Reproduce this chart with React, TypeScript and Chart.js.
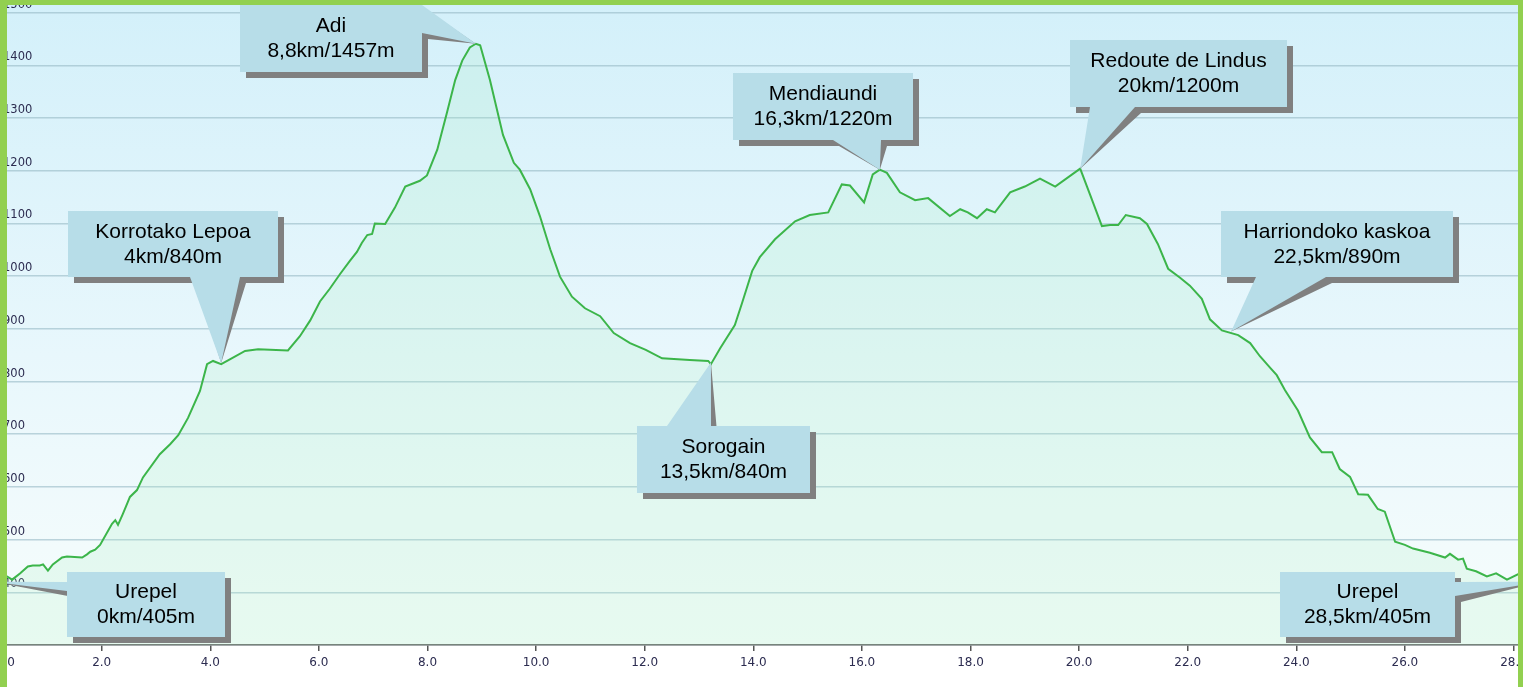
import React, { useEffect, useRef } from 'react';
import { Chart, registerables } from 'chart.js';

Chart.register(...registerables);

// ---- data (km / metres) ----
const distanceKm = [
  0, 0.26, 0.35, 0.5, 0.64, 0.73, 0.86, 0.92, 1.01, 1.1, 1.27, 1.36, 1.64, 1.73, 1.79, 1.88, 1.97,
  2.19, 2.25, 2.3, 2.39, 2.48, 2.52, 2.65, 2.76, 3.07, 3.26, 3.41, 3.59, 3.81, 3.94, 4.05, 4.2,
  4.36, 4.64, 4.88, 5.43, 5.65, 5.84, 6.02, 6.2, 6.39, 6.57, 6.7, 6.79, 6.89, 6.98, 7.03, 7.22,
  7.4, 7.59, 7.86, 7.99, 8.18, 8.36, 8.51, 8.64, 8.78, 8.89, 8.97, 9.15, 9.39, 9.59, 9.7, 9.89,
  10.07, 10.26, 10.44, 10.66, 10.9, 11.18, 11.43, 11.73, 12.02, 12.32, 12.83, 13.17, 13.22,
  13.39, 13.66, 13.79, 13.98, 14.12, 14.4, 14.77, 15.04, 15.38, 15.63, 15.78, 16.04, 16.2,
  16.33, 16.46, 16.7, 16.98, 17.22, 17.62, 17.81, 17.95, 18.12, 18.3, 18.45, 18.73, 19.0,
  19.28, 19.56, 20.02, 20.2, 20.42, 20.57, 20.72, 20.86, 21.12, 21.25, 21.45, 21.64, 21.86,
  22.04, 22.26, 22.41, 22.63, 22.93, 23.15, 23.33, 23.52, 23.64, 23.79, 24.03, 24.25, 24.47,
  24.66, 24.8, 24.99, 25.14, 25.32, 25.5, 25.63, 25.82, 26.0, 26.15, 26.46, 26.74, 26.83,
  26.98, 27.07, 27.14, 27.31, 27.51, 27.68, 27.88, 28.08, 28.5,
];
const elevationM = [
  420, 430, 424, 436, 449, 451, 451, 453, 441, 453, 466, 468, 466, 472, 477, 481, 490,
  530, 537, 528, 549, 571, 581, 594, 618, 662, 681, 698, 731, 782, 833, 839, 833,
  842, 858, 861, 859, 886, 916, 952, 976, 1004, 1029, 1046, 1063, 1078, 1080, 1100, 1099,
  1130, 1170, 1181, 1191, 1240, 1311, 1372, 1409, 1434, 1441, 1438, 1372, 1268, 1215, 1202, 1165,
  1114, 1051, 999, 961, 939, 924, 892, 873, 860, 844, 841, 839, 833,
  863, 907, 948, 1010, 1036, 1070, 1104, 1116, 1121, 1174, 1172, 1140, 1193,
  1202, 1196, 1159, 1144, 1148, 1114, 1127, 1121, 1110, 1127, 1121, 1159, 1170,
  1185, 1170, 1204, 1155, 1095, 1097, 1097, 1116, 1110, 1099, 1061, 1014, 997,
  982, 957, 918, 897, 888, 873, 848, 826, 812, 784, 745, 694, 666,
  666, 634, 619, 586, 585, 558, 553, 496, 490, 483, 475, 466, 473,
  462, 464, 445, 440, 430, 436, 424, 434, 425,
];

// ---- axes ----
const xRange = [0.127, 28.175];
const yRange = [300, 1524];
const xTickStep = 2;
const yTickStep = 100;

// ---- callouts (labels and the point each one points to) ----
const calloutTitles = ['Urepel', 'Korrotako Lepoa', 'Adi', 'Sorogain', 'Mendiaundi', 'Redoute de Lindus', 'Harriondoko kaskoa', 'Urepel'];
const calloutSubtitles = ['0km/405m', '4km/840m', '8,8km/1457m', '13,5km/840m', '16,3km/1220m', '20km/1200m', '22,5km/890m', '28,5km/405m'];
const calloutKm = [0, 4.2, 8.89, 13.22, 16.33, 20.02, 22.8, 28.5];
const calloutM = [420, 835, 1441, 836, 1202, 1204, 895, 420];

// layout of callout boxes: [left, top, width, height, base1x, base1y, base2x, base2y] (px, base relative to box)
const calloutLayout = [
  [67, 572, 158, 65, 0, 10, 0, 19],
  [68, 211, 210, 66, 122, 66, 172, 66],
  [240, 5, 182, 67, 182, 0, 182, 28],
  [637, 426, 173, 67, 30, 0, 74, 0],
  [733, 73, 180, 67, 100, 67, 148, 67],
  [1070, 40, 217, 67, 20, 67, 65, 67],
  [1221, 211, 232, 66, 35, 66, 105, 66],
  [1280, 572, 175, 65, 175, 10, 175, 24],
];

const TICK_COLOR = '#2c2c50';

const backgroundPlugin = {
  id: 'bgGradient',
  beforeDraw(chart: any) {
    const { ctx, chartArea: a } = chart;
    const g = ctx.createLinearGradient(0, a.top, 0, a.bottom);
    g.addColorStop(0, '#d3f0fa');
    g.addColorStop(0.55, '#e8f7fc');
    g.addColorStop(1, '#f7fdfc');
    ctx.save();
    ctx.fillStyle = g;
    ctx.fillRect(a.left, a.top, a.right - a.left, a.bottom - a.top);
    ctx.restore();
  },
};

const calloutPlugin = {
  id: 'callouts',
  afterDraw(chart: any) {
    const { ctx } = chart;
    const xs = chart.scales.x;
    const ys = chart.scales.y;
    const sh = 6;
    ctx.save();
    calloutTitles.forEach((title, i) => {
      const [l, t, w, h, b1x, b1y, b2x, b2y] = calloutLayout[i];
      const tx = xs.getPixelForValue(calloutKm[i]);
      const ty = ys.getPixelForValue(calloutM[i]);
      // shadow
      ctx.fillStyle = '#808080';
      ctx.beginPath();
      ctx.rect(l + sh, t + sh, w, h);
      ctx.moveTo(l + b1x + sh, t + b1y + sh);
      ctx.lineTo(tx, ty);
      ctx.lineTo(l + b2x + sh, t + b2y + sh);
      ctx.closePath();
      ctx.fill();
      // box
      ctx.fillStyle = '#b7dde8';
      ctx.beginPath();
      ctx.rect(l, t, w, h);
      ctx.moveTo(l + b1x, t + b1y);
      ctx.lineTo(tx, ty);
      ctx.lineTo(l + b2x, t + b2y);
      ctx.closePath();
      ctx.fill();
      // text
      ctx.fillStyle = '#000000';
      ctx.font = '21px "Liberation Sans", Arial, sans-serif';
      ctx.textAlign = 'center';
      ctx.textBaseline = 'middle';
      const cx = l + w / 2;
      const cy = t + h / 2;
      ctx.fillText(title, cx, cy - 12);
      ctx.fillText(calloutSubtitles[i], cx, cy + 13);
    });
    // first distance label, drawn at the left edge
    ctx.fillStyle = TICK_COLOR;
    ctx.font = '12px "DejaVu Sans"';
    ctx.textAlign = 'center';
    ctx.textBaseline = 'middle';
    ctx.fillText('0', 11, xs.top + 6 + 5 + 7.2);
    ctx.restore();
  },
};

export default function App() {
  const canvasRef = useRef<HTMLCanvasElement | null>(null);

  useEffect(() => {
    if (!canvasRef.current) return;
    const points = distanceKm.map((x, i) => ({ x, y: elevationM[i] }));
    const chart = new Chart(canvasRef.current, {
      type: 'line',
      data: {
        datasets: [
          {
            data: points,
            borderColor: '#3cb54a',
            borderWidth: 2,
            backgroundColor: 'rgba(170, 240, 195, 0.2)',
            fill: 'start',
            pointRadius: 0,
            tension: 0,
          },
        ],
      },
      options: {
        animation: false,
        responsive: false,
        devicePixelRatio: 1,
        layout: { padding: { top: 0, left: 0, right: 0, bottom: 11.6 } },
        plugins: { legend: { display: false }, tooltip: { enabled: false } },
        scales: {
          x: {
            type: 'linear',
            min: xRange[0],
            max: xRange[1],
            border: { display: true, color: '#6a6a6a', width: 1.5 },
            grid: { drawOnChartArea: false, drawTicks: true, tickLength: 6, color: '#555555', lineWidth: 1.5 },
            ticks: {
              stepSize: xTickStep,
              includeBounds: false,
              autoSkip: false,
              maxRotation: 0,
              padding: 5,
              color: TICK_COLOR,
              font: { family: '"DejaVu Sans"', size: 12 },
              callback: (v: any) => Number(v).toFixed(1),
            },
            afterFit: (s: any) => {
              s.paddingLeft = 0;
              s.paddingRight = 0;
            },
          },
          y: {
            type: 'linear',
            min: yRange[0],
            max: yRange[1],
            border: { display: false },
            grid: { drawTicks: false, tickLength: 0, color: 'rgba(150, 185, 196, 0.6)', lineWidth: 1.5 },
            ticks: {
              stepSize: yTickStep,
              includeBounds: false,
              mirror: true,
              padding: 3,
              labelOffset: -8,
              color: TICK_COLOR,
              font: { family: '"DejaVu Sans"', size: 11.5 },
              callback: (v: any) => (Number(v) === yRange[0] ? '' : String(v)),
            },
            afterFit: (s: any) => {
              s.width = 0;
              s.paddingTop = 0;
              s.paddingBottom = 0;
            },
          },
        },
      },
      plugins: [backgroundPlugin, calloutPlugin],
    });
    return () => chart.destroy();
  }, []);

  const green = '#92d050';
  return (
    <div style={{ position: 'fixed', left: 0, top: 0, width: 1523, height: 687, overflow: 'hidden', background: '#ffffff' }}>
      <canvas ref={canvasRef} width={1523} height={687} style={{ position: 'absolute', left: 0, top: 0, width: 1523, height: 687 }} />
      <div style={{ position: 'absolute', left: 0, top: 0, width: 7, height: 687, background: green }} />
      <div style={{ position: 'absolute', left: 0, top: 0, width: 1523, height: 5, background: green }} />
      <div style={{ position: 'absolute', left: 1518, top: 0, width: 5, height: 687, background: green }} />
    </div>
  );
}
